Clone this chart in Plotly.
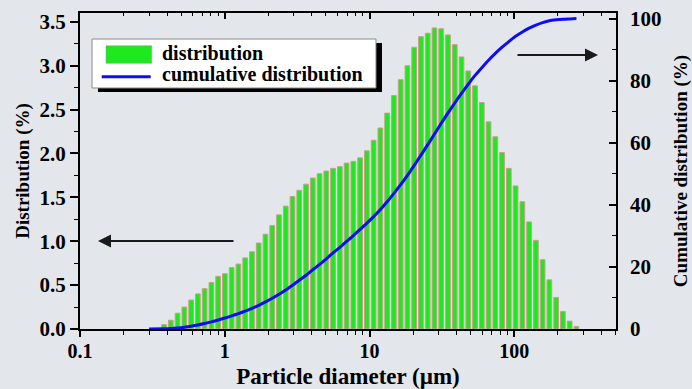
import plotly.graph_objects as go

# ---------------- data ----------------
diameter_um = [0.381, 0.424, 0.472, 0.526, 0.586, 0.652, 0.726, 0.809, 0.900, 1.002,
               1.116, 1.243, 1.384, 1.541, 1.716, 1.911, 2.128, 2.369, 2.638, 2.937,
               3.271, 3.642, 4.055, 4.516, 5.028, 5.599, 6.234, 6.942, 7.730, 8.607,
               9.584, 10.67, 11.88, 13.23, 14.73, 16.41, 18.27, 20.34, 22.65, 25.22,
               28.08, 31.27, 34.82, 38.77, 43.17, 48.07, 53.53, 59.60, 66.37, 73.90,
               82.29, 91.63, 102.0, 113.6, 126.5, 140.9, 156.8, 174.6, 194.5, 216.5,
               241.1, 268.5]
distribution_pct = [0.05, 0.10, 0.18, 0.25, 0.33, 0.40, 0.46, 0.53, 0.60, 0.63,
                    0.70, 0.74, 0.81, 0.88, 0.98, 1.08, 1.18, 1.30, 1.40, 1.51,
                    1.58, 1.65, 1.72, 1.77, 1.80, 1.83, 1.85, 1.89, 1.91, 1.95,
                    2.03, 2.15, 2.29, 2.46, 2.66, 2.84, 3.00, 3.21, 3.33, 3.37,
                    3.43, 3.42, 3.35, 3.24, 3.10, 2.94, 2.77, 2.58, 2.36, 2.19,
                    2.01, 1.83, 1.63, 1.45, 1.22, 1.01, 0.79, 0.56, 0.36, 0.20,
                    0.09, 0.03]

cum_diameter_um = [0.30, 0.381, 0.424, 0.472, 0.526, 0.586, 0.652, 0.726, 0.809, 0.900,
                   1.002, 1.116, 1.243, 1.384, 1.541, 1.716, 1.911, 2.128, 2.369, 2.638,
                   2.937, 3.271, 3.642, 4.055, 4.516, 5.028, 5.599, 6.234, 6.942, 7.730,
                   8.607, 9.584, 10.67, 11.88, 13.23, 14.73, 16.41, 18.27, 20.34, 22.65,
                   25.22, 28.08, 31.27, 34.82, 38.77, 43.17, 48.07, 53.53, 59.60, 66.37,
                   73.90, 82.29, 91.63, 102.0, 113.6, 126.5, 140.9, 156.8, 174.6, 194.5,
                   216.5, 241.1, 268.5]
cum_pct = [0.0, 0.05, 0.15, 0.33, 0.58, 0.91, 1.31, 1.77, 2.30, 2.90,
           3.53, 4.23, 4.97, 5.78, 6.66, 7.64, 8.72, 9.90, 11.2, 12.6,
           14.1, 15.7, 17.3, 19.1, 20.8, 22.6, 24.5, 26.3, 28.2, 30.1,
           32.1, 34.1, 36.2, 38.5, 41.0, 43.7, 46.5, 49.5, 52.7, 56.0,
           59.4, 62.8, 66.3, 69.6, 72.8, 75.9, 78.9, 81.7, 84.2, 86.6,
           88.8, 90.8, 92.6, 94.3, 95.7, 96.9, 97.9, 98.7, 99.3, 99.6,
           99.8, 99.9, 100.0]

x_tick_vals = [0.1, 1, 10, 100]
x_tick_text = ["0.1", "1", "10", "100"]
x_minor_vals = [0.2, 0.3, 0.4, 0.5, 0.6, 0.7, 0.8, 0.9,
                2, 3, 4, 5, 6, 7, 8, 9,
                20, 30, 40, 50, 60, 70, 80, 90,
                200, 300, 400, 500]
y_left_ticks = [0.0, 0.5, 1.0, 1.5, 2.0, 2.5, 3.0, 3.5]
y_left_minor = [0.25, 0.75, 1.25, 1.75, 2.25, 2.75, 3.25]
y_right_ticks = [0, 20, 40, 60, 80, 100]
y_right_minor = [10, 30, 50, 70, 90]

# ---------------- styling ----------------
FONT = "Liberation Serif"
BG = "#e3e7eb"
GREEN = "#1ee81e"
EDGE = "#c8a08a"
BLUE = "#0d0df0"
X_RANGE = [-1, 2.702]
HALF_BAR_DEC = 0.0163  # half bar width in decades

bar_widths = [d * (10 ** HALF_BAR_DEC - 10 ** -HALF_BAR_DEC) for d in diameter_um]

fig = go.Figure()
fig.add_trace(go.Bar(
    x=diameter_um, y=distribution_pct, width=bar_widths,
    marker=dict(color=GREEN, line=dict(color=EDGE, width=1)),
    name="distribution", showlegend=False))
fig.add_trace(go.Scatter(
    x=cum_diameter_um, y=cum_pct, mode="lines", yaxis="y2",
    line=dict(color=BLUE, width=3, shape="spline", smoothing=0.6),
    name="cumulative distribution", showlegend=False))
# helper trace so the top (mirror) axis is drawn
fig.add_trace(go.Scatter(x=[], y=[], xaxis="x2", yaxis="y",
                         showlegend=False, hoverinfo="skip"))

bold = dict(family=FONT, color="black", weight="bold")

fig.update_layout(
    width=692, height=389,
    margin=dict(l=80, r=76, t=13, b=60),
    paper_bgcolor=BG, plot_bgcolor=BG,
    font=dict(family=FONT, color="black", size=21, weight="bold"),
    showlegend=False,
    xaxis=dict(
        type="log", range=X_RANGE, tickmode="array", automargin=False,
        tickvals=x_tick_vals, ticktext=x_tick_text,
        ticks="outside", ticklen=6, tickwidth=1.5, tickcolor="black",
        showline=True, linecolor="black", linewidth=2,
        showgrid=False, zeroline=False,
        minor=dict(tickmode="array", tickvals=x_minor_vals, ticks="outside",
                   ticklen=4, tickwidth=1.2, tickcolor="black", showgrid=False),
        tickfont=dict(size=20, **bold), ticklabelstandoff=-3,
        title=dict(text="Particle diameter (µm)", font=dict(size=23, **bold), standoff=18),
    ),
    xaxis2=dict(
        type="log", range=X_RANGE, overlaying="x", side="top", anchor="y",
        tickmode="array", tickvals=x_tick_vals, showticklabels=False, automargin=False,
        ticks="inside", ticklen=6, tickwidth=1.5, tickcolor="black",
        showline=True, linecolor="black", linewidth=1.5,
        showgrid=False, zeroline=False,
        minor=dict(tickmode="array", tickvals=x_minor_vals, ticks="inside",
                   ticklen=3, tickwidth=1.2, tickcolor="black", showgrid=False),
    ),
    yaxis=dict(
        range=[0, 3.6], tickmode="array", tickvals=y_left_ticks, tickformat=".1f",
        automargin=False,
        ticks="outside", ticklen=8, tickwidth=1.5, tickcolor="black",
        showline=True, linecolor="black", linewidth=2,
        showgrid=False, zeroline=False,
        minor=dict(tickmode="array", tickvals=y_left_minor, ticks="outside",
                   ticklen=4, tickwidth=1.2, tickcolor="black", showgrid=False),
        tickfont=dict(size=21, **bold),
        title=dict(text="Distribution (%)", font=dict(size=19, **bold), standoff=5),
    ),
    yaxis2=dict(
        range=[0, 101.8], overlaying="y", side="right", anchor="x", automargin=False,
        tickmode="array", tickvals=y_right_ticks,
        ticks="inside", ticklen=7, tickwidth=1.5, tickcolor="black",
        showline=True, linecolor="black", linewidth=1.5,
        showgrid=False, zeroline=False,
        minor=dict(tickmode="array", tickvals=y_right_minor, ticks="inside",
                   ticklen=4, tickwidth=1.2, tickcolor="black", showgrid=False),
        tickfont=dict(size=21, **bold), ticklabelstandoff=8,
        title=dict(text="Cumulative distribution (%)", font=dict(size=19, **bold), standoff=14),
    ),
)

# ---------------- hand-drawn legend (paper coordinates) ----------------
fig.add_shape(type="rect", xref="paper", yref="paper",
              x0=0.0336, x1=0.5634, y0=0.750, y1=0.9051,
              fillcolor="black", line=dict(width=0))
fig.add_shape(type="rect", xref="paper", yref="paper",
              x0=0.0224, x1=0.5522, y0=0.7627, y1=0.9177,
              fillcolor="white", line=dict(color="#8a8a8a", width=1))
fig.add_shape(type="rect", xref="paper", yref="paper",
              x0=0.0485, x1=0.1338, y0=0.8408, y1=0.8965,
              fillcolor=GREEN, line=dict(color="#9a9a9a", width=0.5))
fig.add_shape(type="line", xref="paper", yref="paper",
              x0=0.0405, x1=0.1319, y0=0.7984, y1=0.7984,
              line=dict(color=BLUE, width=3))
fig.add_annotation(xref="paper", yref="paper", x=0.150, y=0.874,
                   xanchor="left", yanchor="middle", showarrow=False,
                   text="distribution", font=dict(size=20, **bold))
fig.add_annotation(xref="paper", yref="paper", x=0.150, y=0.806,
                   xanchor="left", yanchor="middle", showarrow=False,
                   text="cumulative distribution", font=dict(size=20, **bold))

# ---------------- axis-pointing arrows ----------------
fig.add_annotation(xref="paper", yref="paper", x=0.0336, y=0.2785,
                   ax=137, ay=0, axref="pixel", ayref="pixel", text="",
                   showarrow=True, arrowhead=2, arrowsize=1.3, arrowwidth=2,
                   arrowcolor="#1a1a1a", standoff=0)
fig.add_annotation(xref="paper", yref="paper", x=0.9664, y=0.867,
                   ax=-82, ay=0, axref="pixel", ayref="pixel", text="",
                   showarrow=True, arrowhead=2, arrowsize=1.3, arrowwidth=2,
                   arrowcolor="#1a1a1a", standoff=0)

fig.write_html("out.html")
